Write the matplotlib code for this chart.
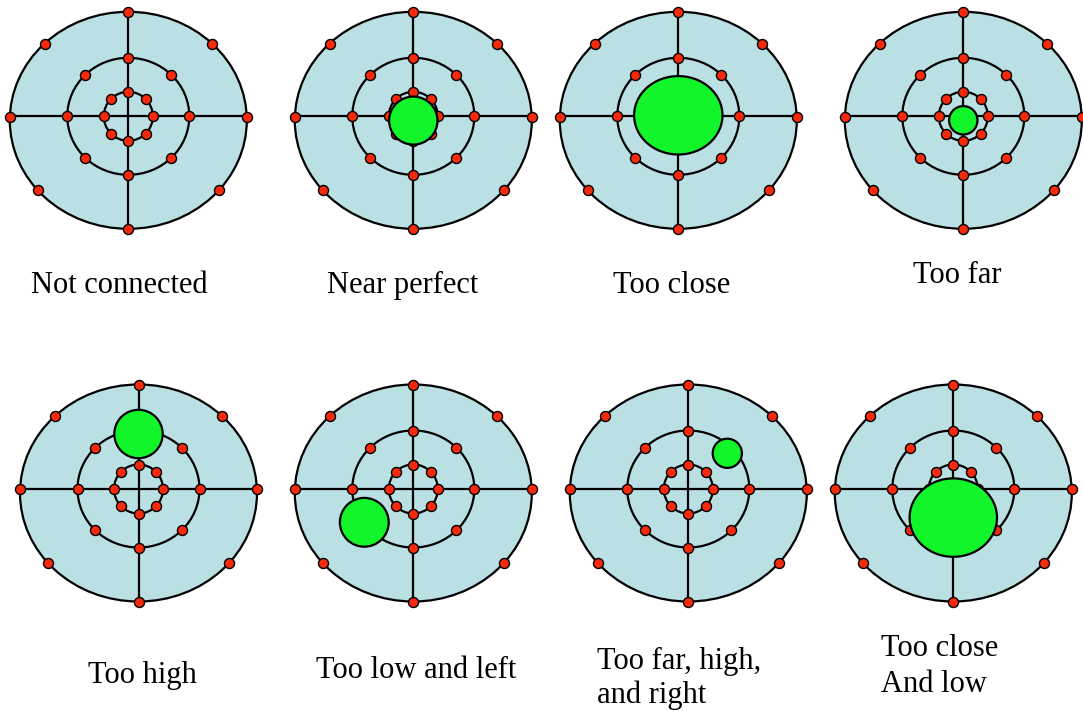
import numpy as np
import matplotlib
matplotlib.use("Agg")
import matplotlib.pyplot as plt
from matplotlib.patches import Ellipse

# ---- data ----
labels = ["Not connected", "Near perfect", "Too close", "Too far",
          "Too high", "Too low and left", "Too far, high,\nand right",
          "Too close\nAnd low"]
# green target spot: offset from sight centre (px, +y = down) and half axes
target_dx = [None, 0.0, 0.0, 0.0, 0.0, -49.0, 39.0, 0.0]
target_dy = [None, 4.3, -1.0, 4.0, -55.0, 33.3, -35.7, 28.6]
target_rx = [None, 24.2, 44.2, 14.2, 24.2, 24.4, 14.6, 43.7]
target_ry = [None, 24.0, 39.2, 14.2, 24.2, 24.4, 14.6, 39.2]

# ---- layout / style ----
W, H = 1083, 711
panel_centers = [(128.3, 116.3), (413.3, 116.3), (678.3, 116.3), (963.3, 116.3),
                 (138.5, 489.0), (413.3, 489.0), (688.3, 489.0), (953.3, 489.0)]
# label placement: (x, first baseline, alignment)
label_pos = [(119.5, 293, 'center'), (403, 293, 'center'), (672, 293, 'center'),
             (957, 283, 'center'), (142, 683, 'center'), (416, 678, 'center'),
             (597, 669.5, 'left'), (881, 656, 'left')]
line_step = [34, 34, 34, 34, 34, 34, 34, 36]

BLUE = "#BBE0E3"
GREEN = "#12F52B"
RED = "#F52A0C"
LW = 1.6

outer_rx, outer_ry, outer_off = 118.5, 108.5, 4.0
mid_rx, mid_ry = 61.0, 58.5
inn_r = 24.5
outer_angles = [-2, -45, -90, -135, 182, 140, 90, 40]
ring_angles = [0, 45, 90, 135, 180, 225, 270, 315]

fig = plt.figure(figsize=(W / 100, H / 100), dpi=100)

for i, (cx, cy) in enumerate(panel_centers):
    ax = fig.add_axes([(cx - 130) / W, 1 - (cy + 120) / H, 260 / W, 240 / H])
    ax.set_xlim(-130, 130)
    ax.set_ylim(120, -120)
    ax.axis('off')

    ax.add_patch(Ellipse((0, outer_off), 2 * outer_rx, 2 * outer_ry, fc=BLUE,
                         ec='black', lw=LW, zorder=1, clip_on=False))
    ax.plot([0, 0], [outer_off - outer_ry, outer_off + outer_ry], color='black',
            lw=LW, zorder=2, clip_on=False)
    ax.plot([-outer_rx, outer_rx], [0, 0], color='black', lw=LW, zorder=2,
            clip_on=False)
    ax.add_patch(Ellipse((0, 0), 2 * mid_rx, 2 * mid_ry, fill=False,
                         ec='black', lw=LW, zorder=2, clip_on=False))
    ax.add_patch(Ellipse((0, 0), 2 * inn_r, 2 * inn_r, fill=False,
                         ec='black', lw=LW, zorder=2, clip_on=False))

    t = np.radians(outer_angles)
    xs = list(outer_rx * np.cos(t))
    ys = list(outer_off + outer_ry * np.sin(t))
    t2 = np.radians(ring_angles)
    xs += list(mid_rx * np.cos(t2)) + list(inn_r * np.cos(t2))
    ys += list(mid_ry * np.sin(t2)) + list(inn_r * np.sin(t2))
    ax.scatter(xs, ys, s=52, c=RED, edgecolors='black', linewidths=1.0,
               zorder=4, clip_on=False)

    if target_dx[i] is not None:
        ax.add_patch(Ellipse((target_dx[i], target_dy[i]), 2 * target_rx[i],
                             2 * target_ry[i], fc=GREEN, ec='black', lw=LW,
                             zorder=5, clip_on=False))

for i, lab in enumerate(labels):
    x, yb, ha = label_pos[i]
    for k, line in enumerate(lab.split("\n")):
        fig.text(x / W, 1 - (yb + k * line_step[i]) / H, line, ha=ha,
                 va='baseline', fontsize=22, family='Liberation Serif',
                 color='black')

fig.savefig("out.png", dpi=100)
